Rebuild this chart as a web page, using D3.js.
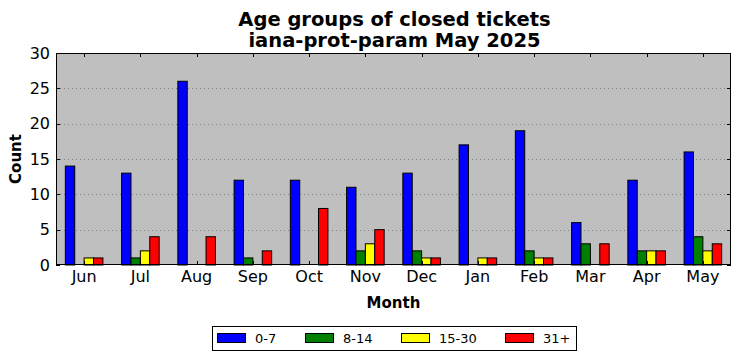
<!DOCTYPE html>
<html>
<head>
<meta charset="utf-8">
<script src="https://cdn.jsdelivr.net/npm/d3@7"></script>
<style>
  body { margin: 0; background: #fff; }
  svg { display: block; font-family: "DejaVu Sans", sans-serif; }
</style>
</head>
<body>
<svg id="chart" width="742" height="361"></svg>
<script>
const months = ["Jun","Jul","Aug","Sep","Oct","Nov","Dec","Jan","Feb","Mar","Apr","May"];
const seriesNames = ["0-7","8-14","15-30","31+"];
const seriesColors = ["#0000ff","#008000","#ffff00","#ff0000"];
const age0to7   = [14,13,26,12,12,11,13,17,19,6,12,16];
const age8to14  = [0,1,0,1,0,2,2,0,2,3,2,4];
const age15to30 = [1,2,0,0,0,3,1,1,1,0,2,2];
const age31plus = [1,4,4,2,8,5,1,1,1,3,2,3];
const yTicks = [0,5,10,15,20,25,30];
const series = [age0to7, age8to14, age15to30, age31plus];

const svg = d3.select("#chart");
const m = {left: 56, right: 731, top: 53, bottom: 265};

const x = d3.scaleBand().domain(months).range([m.left, m.right]).padding(0);
const groupW = x.bandwidth() * 0.668;
const inner = d3.scaleBand().domain(seriesNames).range([0, groupW]);
const y = d3.scaleLinear().domain([0, 30]).range([m.bottom, m.top]);

// plot background
svg.append("rect").attr("x", m.left).attr("y", m.top)
  .attr("width", m.right - m.left).attr("height", m.bottom - m.top)
  .attr("fill", "#bfbfbf");

// grid
svg.append("g").selectAll("line").data(yTicks.slice(1, -1)).join("line")
  .attr("x1", m.left).attr("x2", m.right)
  .attr("y1", d => Math.round(y(d)) + 0.5).attr("y2", d => Math.round(y(d)) + 0.5)
  .attr("stroke", "#7f7f7f").attr("stroke-width", 1).attr("stroke-dasharray", "1,3");

// bars
series.forEach((vals, si) => {
  svg.append("g").selectAll("rect").data(months).join("rect")
    .attr("x", (d) => x(d) + x.bandwidth()/2 - groupW/2 + inner(seriesNames[si]))
    .attr("width", inner.bandwidth())
    .attr("y", (d, i) => y(vals[i]))
    .attr("height", (d, i) => y(0) - y(vals[i]))
    .attr("fill", seriesColors[si])
    .attr("stroke", "#000").attr("stroke-width", 1);
});

// axes with inward ticks
const tickLen = 4;
const bottomAxis = d3.axisBottom(x).tickSize(0).tickPadding(6);
const gB = svg.append("g").attr("transform", `translate(0,${m.bottom})`).call(bottomAxis);
gB.select(".domain").remove();
gB.selectAll("text").attr("font-size", 16).attr("font-family", "DejaVu Sans").attr("fill", "#000");

const leftAxis = d3.axisLeft(y).tickValues(yTicks).tickSize(0).tickPadding(6);
const gL = svg.append("g").attr("transform", `translate(${m.left},0)`).call(leftAxis);
gL.select(".domain").remove();
gL.selectAll("text").attr("font-size", 16).attr("font-family", "DejaVu Sans").attr("fill", "#000");

// tick marks inside
const tg = svg.append("g").attr("stroke", "#000").attr("stroke-width", 1);
months.forEach(mo => {
  const xx = Math.round(x(mo) + x.bandwidth()/2) + 0.5;
  tg.append("line").attr("x1", xx).attr("x2", xx).attr("y1", m.bottom).attr("y2", m.bottom - tickLen);
  tg.append("line").attr("x1", xx).attr("x2", xx).attr("y1", m.top).attr("y2", m.top + tickLen);
});
yTicks.forEach(t => {
  const yy = Math.round(y(t)) + 0.5;
  tg.append("line").attr("x1", m.left).attr("x2", m.left + tickLen).attr("y1", yy).attr("y2", yy);
  tg.append("line").attr("x1", m.right).attr("x2", m.right - tickLen).attr("y1", yy).attr("y2", yy);
});

// frame
svg.append("rect").attr("x", m.left + 0.5).attr("y", m.top + 0.5)
  .attr("width", m.right - m.left - 1).attr("height", m.bottom - m.top - 1)
  .attr("fill", "none").attr("stroke", "#000").attr("stroke-width", 1);

// title
const title = svg.append("text").attr("text-anchor", "middle").attr("font-weight", "bold")
  .attr("font-size", 19.5).attr("fill", "#000");
title.append("tspan").attr("x", (m.left + m.right)/2 + 1).attr("y", 26).text("Age groups of closed tickets");
title.append("tspan").attr("x", (m.left + m.right)/2 + 1).attr("y", 47).text("iana-prot-param May 2025");

// axis labels
svg.append("text").attr("x", (m.left + m.right)/2).attr("y", 308).attr("text-anchor", "middle")
  .attr("font-weight", "bold").attr("font-size", 15).text("Month");
svg.append("text").attr("transform", `translate(21,${(m.top + m.bottom)/2}) rotate(-90)`)
  .attr("text-anchor", "middle").attr("font-weight", "bold").attr("font-size", 15).text("Count");

// legend
const lg = svg.append("g");
lg.append("rect").attr("x", 212.5).attr("y", 326.5).attr("width", 364).attr("height", 24)
  .attr("fill", "#fff").attr("stroke", "#000").attr("stroke-width", 1);
const legX = [217, 305, 401, 505];
seriesNames.forEach((n, i) => {
  lg.append("rect").attr("x", legX[i] + 0.5).attr("y", 333.5).attr("width", 28).attr("height", 9)
    .attr("fill", seriesColors[i]).attr("stroke", "#000").attr("stroke-width", 1);
  lg.append("text").attr("x", legX[i] + 38).attr("y", 343).attr("font-size", 13).text(n);
});
</script>
</body>
</html>
